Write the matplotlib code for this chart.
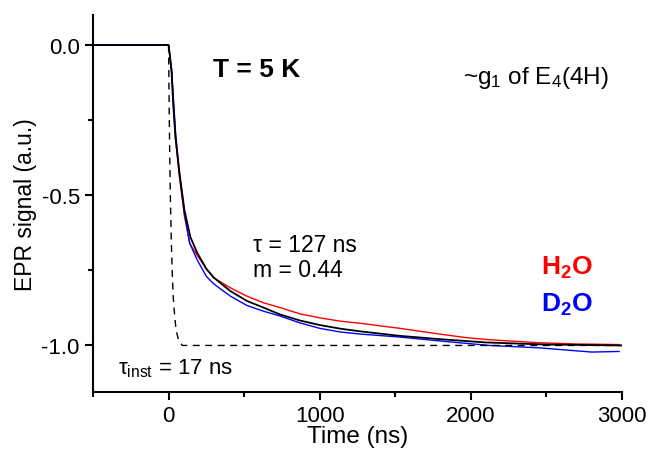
import numpy as np
import matplotlib
matplotlib.use('Agg')
import matplotlib.pyplot as plt
from matplotlib.ticker import MultipleLocator, FormatStrFormatter

plt.rcParams['font.family'] = ['Liberation Sans', 'DejaVu Sans']
plt.rcParams['mathtext.fontset'] = 'custom'
plt.rcParams['mathtext.rm'] = 'Liberation Sans'
plt.rcParams['mathtext.it'] = 'Liberation Sans'
plt.rcParams['mathtext.bf'] = 'Liberation Sans:bold'

# H2O trace
t_h2o = [-500, -250, 0, 20, 46, 72, 105, 140, 189, 250, 299, 409, 519, 628,
         738, 870, 1000, 1134, 1266, 1529, 1793, 1969, 2123, 2452, 2700, 2980]
v_h2o = [0.0, 0.0, 0.0, -0.09, -0.31, -0.44, -0.57, -0.66, -0.70, -0.745, -0.775,
         -0.808, -0.836, -0.858, -0.874, -0.895, -0.908, -0.919, -0.926, -0.943,
         -0.962, -0.974, -0.981, -0.991, -0.995, -0.997]

# D2O trace
t_d2o = [-500, -250, 0, 20, 46, 72, 105, 140, 189, 250, 299, 409, 519, 628,
         738, 870, 1000, 1134, 1266, 1529, 1793, 2123, 2452, 2800, 2980]
v_d2o = [0.0, 0.0, 0.0, -0.08, -0.29, -0.43, -0.56, -0.66, -0.715, -0.77, -0.795,
         -0.836, -0.867, -0.886, -0.902, -0.925, -0.943, -0.955, -0.962, -0.972,
         -0.985, -1.0, -1.008, -1.022, -1.02]

# stretched exponential fit (tau = 127 ns, m = 0.44)
t_fit = [-500, 0, 10, 20, 31, 46, 72, 105, 145, 189, 250, 299, 409, 519, 628,
         738, 870, 1000, 1134, 1266, 1529, 1793, 2100, 2500, 3000]
v_fit = [0.0, 0.0, -0.04, -0.09, -0.2, -0.31, -0.425, -0.55, -0.64, -0.691,
         -0.745, -0.774, -0.819, -0.852, -0.874, -0.897, -0.917, -0.932, -0.944,
         -0.953, -0.968, -0.979, -0.99, -0.997, -1.0]

# instrument response (tau_inst = 17 ns)
t_inst = [0, 4, 8, 12, 18, 25, 31, 40, 50, 65, 90, 3000]
v_inst = [0.0, -0.21, -0.38, -0.51, -0.65, -0.77, -0.84, -0.90, -0.95, -0.98, -1.0, -1.0]

fig = plt.figure(figsize=(6.48, 4.52), dpi=100)
ax = fig.add_axes([0.1435, 0.1305, 0.8165, 0.834])

ax.plot(t_h2o, v_h2o, color='#ff0000', lw=1.0)
ax.plot(t_d2o, v_d2o, color='#0000ff', lw=1.0)
ax.plot(t_inst, v_inst, color='black', lw=1.0, ls=(0, (5, 4)))
ax.plot(t_fit, v_fit, color='black', lw=1.3)

ax.set_xlim(-500, 3000)
ax.set_ylim(-1.155, 0.1)
ax.xaxis.set_major_locator(MultipleLocator(1000))
ax.xaxis.set_minor_locator(MultipleLocator(500))
ax.yaxis.set_major_locator(MultipleLocator(0.5))
ax.yaxis.set_minor_locator(MultipleLocator(0.25))
ax.yaxis.set_major_formatter(FormatStrFormatter('%.1f'))

for s in ['top', 'right']:
    ax.spines[s].set_visible(False)
for s in ['left', 'bottom']:
    ax.spines[s].set_linewidth(1.5)
ax.tick_params(which='major', direction='out', length=6, width=1.5, labelsize=16)
ax.tick_params(which='minor', direction='out', length=3.5, width=1.5)

ax.set_xlabel('Time (ns)', fontsize=17.5, labelpad=-1)
ax.set_ylabel('EPR signal (a.u.)', fontsize=16.5, labelpad=3)

ax.text(297, -0.08, 'T = 5 K', fontsize=19, fontweight='bold', ha='left', va='center')
ax.text(1945, -0.107, r'~g$_1$ of E$_4$(4H)', fontsize=17.5, ha='left', va='center')
ax.text(560, -0.663, '\u03c4 = 127 ns', fontsize=16.5, ha='left', va='center')
ax.text(560, -0.747, 'm = 0.44', fontsize=16.5, ha='left', va='center')
ax.text(2463, -0.74, r'H$_\mathbf{2}$O', fontsize=19, fontweight='bold',
        color='#ff0000', ha='left', va='center')
ax.text(2463, -0.863, r'D$_\mathbf{2}$O', fontsize=19, fontweight='bold',
        color='#0000ff', ha='left', va='center')
ax.text(-336, -1.073, '\u03c4$_{\\rm inst}$ = 17 ns', fontsize=16, ha='left', va='center')

fig.savefig('out.png', dpi=100)
